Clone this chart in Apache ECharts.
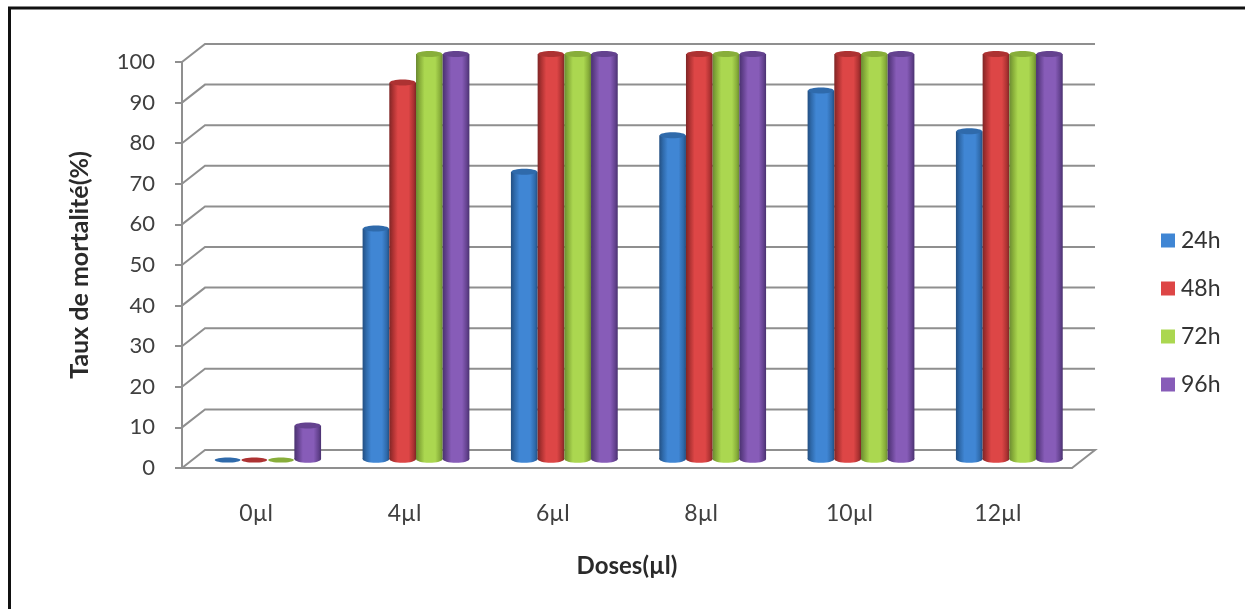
<!DOCTYPE html>
<html>
<head>
<meta charset="utf-8">
<title>Taux de mortalité</title>
<style>
html, body { margin: 0; padding: 0; background: #fff; overflow: hidden; }
#chart { width: 1245px; height: 609px; filter: blur(0.6px); }
</style>
<script src="https://cdn.jsdelivr.net/npm/echarts@6/dist/echarts.min.js"></script>
</head>
<body>
<div id="chart"></div>
<script>
let doses = ['0µl', '4µl', '6µl', '8µl', '10µl', '12µl']
let hours = ['24h', '48h', '72h', '96h']
let h24 = [0, 57, 71, 80, 91, 81]
let h48 = [0, 93, 100, 100, 100, 100]
let h72 = [0, 100, 100, 100, 100, 100]
let h96 = [8.5, 100, 100, 100, 100, 100]
let yTicks = [0, 10, 20, 30, 40, 50, 60, 70, 80, 90, 100]

// main, edge and top colours of each cylinder
let colors = ['#4086d4', '#dd4646', '#abd750', '#875cb8']
let edges = ['#234f82', '#7f2626', '#6b8a33', '#4a3270']
let tops = ['#2f6aab', '#ad3232', '#88ae3a', '#64428f']

let font = 'Lato, "Open Sans", sans-serif'
let gridColor = '#8f8f8f'
let depthX = 23
let depthY = -18

// 3D walls: slanted line from the axis, then along the back
function renderWall(params, api) {
  let cs = params.coordSys
  let y = api.coord([0, api.value(0)])[1]
  let v = api.value(0)
  let points = [[cs.x, y], [cs.x + depthX, y + depthY], [cs.x + cs.width + depthX, y + depthY]]
  if (v === 0) {
    points.push([cs.x + cs.width, y])
  }
  return {
    type: 'polyline',
    shape: {points: points},
    style: {fill: null, stroke: gridColor, lineWidth: 2},
    silent: true
  }
}

function renderCylinder(index) {
  return function (params, api) {
    let cat = api.value(0)
    let top = api.coord([cat, api.value(1)])
    let base = api.coord([cat, 0])
    let band = api.size([1, 0])[0]
    let w = band * 0.18
    let rx = w / 2
    let cx = top[0] + depthX / 2 + (index - 1.5) * w
    let yTop = top[1] + depthY / 2 + 1
    let yBase = base[1] + depthY / 2
    let fill = new echarts.graphic.LinearGradient(0, 0, 1, 0, [
      {offset: 0, color: edges[index]},
      {offset: 0.14, color: tops[index]},
      {offset: 0.32, color: colors[index]},
      {offset: 0.72, color: colors[index]},
      {offset: 0.9, color: tops[index]},
      {offset: 1, color: edges[index]}
    ])
    let children = []
    if (api.value(1) > 0) {
      children.push({
        type: 'ellipse',
        shape: {cx: cx, cy: yBase, rx: rx, ry: 3.8},
        style: {fill: fill}
      })
      children.push({
        type: 'rect',
        shape: {x: cx - rx, y: yTop, width: w, height: yBase - yTop},
        style: {fill: fill}
      })
      children.push({
        type: 'ellipse',
        shape: {cx: cx, cy: yTop, rx: rx - 0.5, ry: 3},
        style: {fill: tops[index]}
      })
    } else {
      children.push({
        type: 'ellipse',
        shape: {cx: cx, cy: yBase + 1, rx: rx - 0.5, ry: 2.6},
        style: {fill: tops[index]}
      })
    }
    return {type: 'group', children: children}
  }
}

function cylinderSeries(name, index, values) {
  return {
    name: name,
    type: 'custom',
    z: 3 + index,
    renderItem: renderCylinder(index),
    itemStyle: {color: colors[index]},
    encode: {x: 0, y: 1},
    data: values.map(function (v, i) { return [i, v] })
  }
}

let chart = echarts.init(document.getElementById('chart'), null, {renderer: 'canvas'})

chart.setOption({
  animation: false,
  backgroundColor: '#fff',
  textStyle: {fontFamily: font},
  grid: {left: 182, width: 890, top: 62, height: 406},
  legend: {
    orient: 'vertical',
    left: 1156,
    top: 224,
    icon: 'rect',
    itemWidth: 14,
    itemHeight: 14,
    itemGap: 25,
    data: hours,
    textStyle: {fontFamily: font, fontSize: 23, color: '#333', padding: [0, 0, 0, 1]}
  },
  xAxis: {
    type: 'category',
    data: doses,
    name: 'Doses(µl)',
    nameLocation: 'middle',
    nameGap: 86,
    nameTextStyle: {fontFamily: font, fontSize: 24, fontWeight: 'bold', color: '#2a2a2a'},
    axisLine: {lineStyle: {color: gridColor, width: 2}},
    axisTick: {show: false},
    axisLabel: {fontFamily: font, fontSize: 23, color: '#404040', margin: 34}
  },
  yAxis: {
    type: 'value',
    min: 0,
    max: 100,
    interval: 10,
    name: 'Taux de mortalité(%)',
    nameLocation: 'middle',
    nameGap: 90,
    nameTextStyle: {fontFamily: font, fontSize: 25, fontWeight: 'bold', color: '#2a2a2a'},
    axisLine: {show: true, lineStyle: {color: gridColor, width: 2}},
    axisTick: {show: true, length: 7, lineStyle: {color: gridColor, width: 2}},
    axisLabel: {fontFamily: font, fontSize: 22, color: '#404040', margin: 27},
    splitLine: {show: false}
  },
  graphic: [
    {type: 'line', shape: {x1: 9.5, y1: 8, x2: 9.5, y2: 609}, style: {stroke: '#111', lineWidth: 3}},
    {type: 'line', shape: {x1: 8, y1: 8, x2: 1245, y2: 8}, style: {stroke: '#111', lineWidth: 3}}
  ],
  series: [
    {
      name: 'walls',
      type: 'custom',
      z: 1,
      renderItem: renderWall,
      encode: {y: 0},
      data: yTicks.map(function (v) { return [v] }),
      silent: true
    },
    cylinderSeries(hours[0], 0, h24),
    cylinderSeries(hours[1], 1, h48),
    cylinderSeries(hours[2], 2, h72),
    cylinderSeries(hours[3], 3, h96)
  ]
})
</script>
</body>
</html>
